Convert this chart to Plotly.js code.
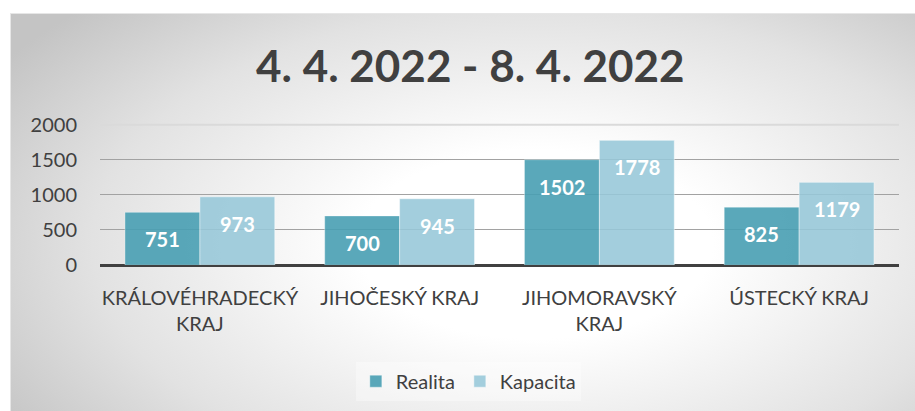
<!DOCTYPE html>
<html>
<head>
<meta charset="utf-8">
<script src="https://cdn.plot.ly/plotly-3.0.1.min.js"></script>
<style>
  html, body { margin: 0; padding: 0; background: #ffffff; }
  #wrap { position: relative; width: 915px; height: 411px; overflow: hidden; }
  #panel {
    position: absolute; left: 10px; top: 13px; width: 905px; height: 398px;
    border-top: 1px solid #e6e6e6; border-left: 1px solid #e6e6e6;
    box-sizing: border-box;
    background: radial-gradient(ellipse 70% 85% at 58% 58%, #ffffff 28%, #e2e2e2 70%, #c4c4c4 100%);
  }
  #chart { position: absolute; left: 0; top: 0; width: 915px; height: 411px; }
</style>
</head>
<body>
<div id="wrap">
  <div id="panel"></div>
  <div id="chart"></div>
</div>
<script>
const categories = ["KRÁLOVÉHRADECKÝ<br>KRAJ", "JIHOČESKÝ KRAJ", "JIHOMORAVSKÝ<br>KRAJ", "ÚSTECKÝ KRAJ"];
const realita = [751, 700, 1502, 825];
const kapacita = [973, 945, 1778, 1179];
const seriesNames = ["Realita", "Kapacita"];
const yTicks = [0, 500, 1000, 1500, 2000];
const titleText = "4. 4. 2022 - 8. 4. 2022";

const FONT = "Lato, 'Open Sans', sans-serif";
const colReal = "rgba(72,158,179,0.90)";
const colKap = "rgba(150,199,216,0.88)";

const traces = [
  { type: "bar", name: seriesNames[0], x: categories, y: realita,
    marker: { color: colReal, line: { color: "rgba(255,255,255,0.35)", width: 1 } },
    hoverinfo: "none" },
  { type: "bar", name: seriesNames[1], x: categories, y: kapacita,
    marker: { color: colKap, line: { color: "rgba(255,255,255,0.45)", width: 1 } },
    hoverinfo: "none" }
];

const groupW = 0.75, barW = groupW / 2;
const annotations = [];
[realita, kapacita].forEach((arr, s) => {
  arr.forEach((v, i) => {
    annotations.push({
      xref: "x", yref: "y", x: i + (s === 0 ? -barW / 2 : barW / 2), y: v,
      yshift: -27, text: String(v), showarrow: false,
      font: { family: FONT, size: 20, color: "#ffffff", weight: "bold" }
    });
  });
});

const yMax = yTicks[yTicks.length - 1];

const layout = {
  width: 915, height: 411, autosize: false,
  paper_bgcolor: "rgba(0,0,0,0)", plot_bgcolor: "rgba(0,0,0,0)",
  margin: { l: 100, r: 16, t: 122, b: 145 },
  barmode: "group", bargap: 0.25, bargroupgap: 0,
  title: { text: "<b>" + titleText + "</b>", x: 0.514, xanchor: "center", xref: "container",
           y: 0.838, yanchor: "middle", yref: "container",
           font: { family: FONT, size: 44, color: "#404040" } },
  xaxis: { type: "category", tickfont: { family: FONT, size: 20, color: "#404040" },
           showgrid: false, showline: false, ticks: "", fixedrange: true,
           automargin: false, tickangle: 0, ticklabelstandoff: 19 },
  yaxis: { range: [0, 2040], tickvals: yTicks, ticktext: yTicks.map(String),
           tickfont: { family: FONT, size: 20, color: "#404040" },
           gridcolor: "#a2a2a2", gridwidth: 1, zeroline: true, zerolinecolor: "#404040",
           zerolinewidth: 3, showline: false, ticks: "", ticklabelstandoff: 22, fixedrange: true,
           automargin: false },
  shapes: [
    { type: "line", xref: "paper", yref: "y", x0: 0, x1: 1, y0: yMax, y1: yMax,
      line: { color: "#dadada", width: 2 }, layer: "above" }
  ],
  showlegend: true,
  legend: { orientation: "h", x: 0.461, xref: "paper", xanchor: "center",
            y: -0.80, yref: "paper", yanchor: "middle", bgcolor: "rgba(255,255,255,0.35)",
            font: { family: FONT, size: 20, color: "#404040" } },
  annotations: annotations
};

Plotly.newPlot("chart", traces, layout, { displayModeBar: false, staticPlot: true });
</script>
</body>
</html>
